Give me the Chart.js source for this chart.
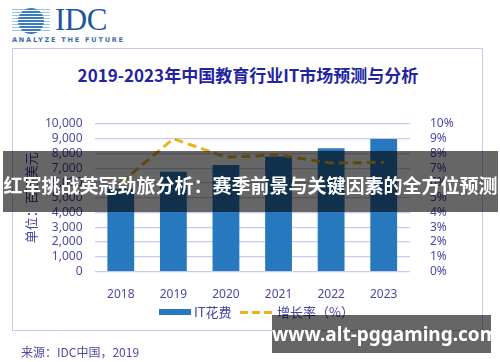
<!DOCTYPE html>
<html><head><meta charset="utf-8">
<script src="https://cdn.jsdelivr.net/npm/chart.js@4/dist/chart.umd.min.js"></script>
<style>
html,body{margin:0;padding:0;background:#fff;width:500px;height:362px;overflow:hidden;}
body{position:relative;font-family:"Noto Sans","Noto Sans CJK SC",sans-serif;}
.abs{position:absolute;}
#frame{left:12px;top:48px;width:471px;height:283px;border:1.5px solid #c9c7ef;box-sizing:border-box;}
#chartWrap{left:0;top:0;width:500px;height:362px;}
#title{left:0;top:62px;width:496px;text-align:center;font:700 17px "Noto Sans CJK SC","Noto Sans",sans-serif;color:#2424a2;letter-spacing:0px;}
#logoLines{left:12px;top:9px;width:38px;height:24px;background:repeating-linear-gradient(to bottom,#9fc3e6 0 1.3px,transparent 1.3px 3px);}
#logoBall{left:18px;top:8px;width:26px;height:26px;border-radius:50%;background:repeating-linear-gradient(to bottom,#3b7cc0 0 1.6px,#ffffff 1.6px 3px);}
#logoIDC{left:55px;top:3px;font:400 31px "Liberation Serif","DejaVu Serif",serif;color:#1d55a0;letter-spacing:-0.5px;line-height:34px;}
#logoTag{left:12px;top:36px;font:700 6.6px "DejaVu Sans",sans-serif;color:#3d6ca8;letter-spacing:1.75px;white-space:nowrap;}
.legTxt{font:400 13px "Noto Sans CJK SC","Noto Sans",sans-serif;color:#4444a6;line-height:16px;white-space:nowrap;}
#legBar{left:159px;top:309px;width:32px;height:6px;background:#2878be;}
#legLine{left:240px;top:311px;width:32px;height:3px;background:repeating-linear-gradient(to right,#e8b420 0 8px,transparent 8px 12px);}
#source{left:21px;top:344px;font:400 12px "Noto Sans CJK SC","Noto Sans",sans-serif;color:#4a4aa6;white-space:nowrap;line-height:16px;}
#band{left:3px;top:151px;width:495px;height:61px;background:rgba(0,0,0,0.6);color:#fff;text-align:center;font:700 19px "Noto Sans CJK SC",sans-serif;line-height:61px;white-space:nowrap;}
#band span{position:relative;top:3px;}
#wm{left:272px;top:315px;width:219px;height:38px;background:rgba(0,0,0,0.6);color:#fff;text-align:center;font:700 19px "Noto Sans","DejaVu Sans",sans-serif;line-height:38px;white-space:nowrap;}
</style></head>
<body>
<div id="frame" class="abs"></div>
<div id="logoLines" class="abs"></div>
<div id="logoBall" class="abs"></div>
<div id="logoIDC" class="abs">IDC</div>
<div id="logoTag" class="abs">ANALYZE THE FUTURE</div>
<div id="title" class="abs">2019-2023年中国教育行业IT市场预测与分析</div>
<div id="chartWrap" class="abs"><canvas id="c" width="500" height="362"></canvas></div>
<div id="legBar" class="abs"></div>
<div class="abs legTxt" style="left:194px;top:304px;">IT花费</div>
<div id="legLine" class="abs"></div>
<div class="abs legTxt" style="left:277px;top:304px;">增长率（%）</div>
<div id="source" class="abs">来源：IDC中国，2019</div>
<div id="band" class="abs"><span>红军挑战英冠劲旅分析：赛季前景与关键因素的全方位预测</span></div>
<div id="wm" class="abs">www.alt-pggaming.com</div>
<script>
const years = ['2018','2019','2020','2021','2022','2023'];
const itSpend = [5600, 6760, 7220, 7790, 8350, 8990];
const growthRate = [6.0, 9.0, 7.75, 7.9, 7.35, 7.4];
const leftTicks = [0,1000,2000,3000,4000,5000,6000,7000,8000,9000,10000];
const rightTicks = [0,1,2,3,4,5,6,7,8,9,10];

const tickColor = '#4a4aa8';
new Chart(document.getElementById('c'), {
  data: {
    labels: years,
    datasets: [
      {type:'line', label:'增长率（%）', data: growthRate, yAxisID:'y1', borderColor:'#e8b420', borderWidth:3, borderDash:[9,5], pointRadius:0, tension:0, fill:false, order:0},
      {type:'bar', label:'IT花费', data: itSpend, yAxisID:'y', backgroundColor:'#2878be', barPercentage:0.51, categoryPercentage:1, order:1}
    ]
  },
  options: {
    responsive:false, animation:false,
    layout:{padding:{top:124,left:0,right:0,bottom:0}},
    plugins:{legend:{display:false}, tooltip:{enabled:false}, title:{display:false}},
    scales:{
      x:{grid:{display:false}, border:{display:false},
         ticks:{color:tickColor, font:{family:'"Noto Sans"', size:12}, padding:8},
         afterFit(s){ s.height = 90.5; }},
      y:{position:'left', min:0, max:10000,
         afterBuildTicks(s){ s.ticks = leftTicks.map(v=>({value:v})); },
         ticks:{autoSkip:false, color:tickColor, font:{family:'"Noto Sans"', size:12}, padding:12, callback:v=>v.toLocaleString('en-US')},
         grid:{color:'#cbc9f1', lineWidth:1.2, drawTicks:false}, border:{display:false},
         title:{display:true, text:'单位：百万美元', color:'#4444a6', font:{family:'"Noto Sans CJK SC"', size:13}, padding:{top:23,bottom:0}},
         afterFit(s){ s.width = 94.5; }},
      y1:{position:'right', min:0, max:10,
         afterBuildTicks(s){ s.ticks = rightTicks.map(v=>({value:v})); },
         ticks:{autoSkip:false, color:tickColor, font:{family:'"Noto Sans"', size:12}, padding:12, callback:v=>v+'%'},
         grid:{display:false}, border:{display:false},
         afterFit(s){ s.width = 90; }}
    }
  }
});
</script>
</body></html>
